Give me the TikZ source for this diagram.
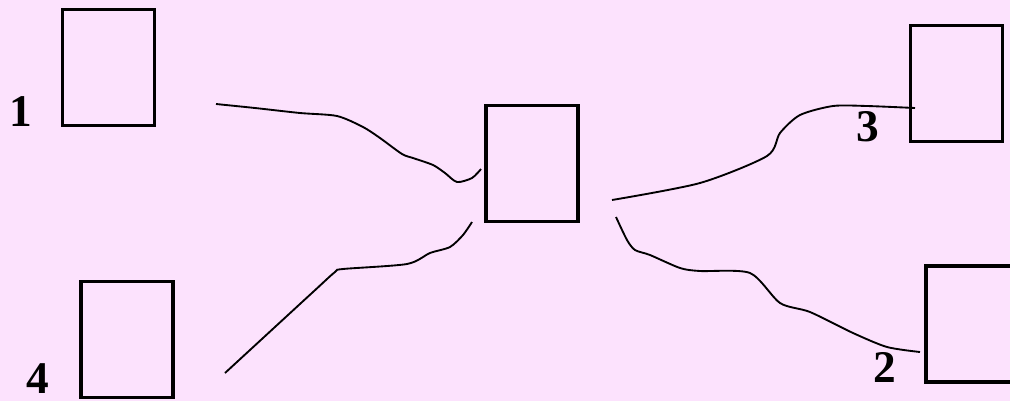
\documentclass[tikz,border=0pt]{standalone}
\usepackage{fontspec}
\setmainfont{Liberation Serif}
\definecolor{bgpink}{RGB}{252,226,253}
\tikzset{
  frame/.style={draw=black, line width=2.5pt, minimum width=69pt, minimum height=87pt, inner sep=0pt},
  wire/.style={black, line width=1.4pt},
  num/.style={font=\fontsize{34}{38}\selectfont\bfseries, inner sep=0pt}
}
\begin{document}
\begin{tikzpicture}[x=0.75pt, y=-0.75pt]

	\fill[bgpink] (0,0) rectangle (1010,401);
	\useasboundingbox (0,0) rectangle (1010,401);

	% boxes
	\node[frame] (box1) at (108.5, 67.5) {};
	\node[frame] (hub) at (532, 163.5) {};
	\node[frame] (box3) at (956.5, 83.5) {};
	\node[frame] (box2) at (972, 324) {};
	\node[frame] (box4) at (127, 339.5) {};

	\node[num] (lab1) at (21, 112) {1};
	\node[num] (lab2) at (885, 367) {2};
	\node[num] (lab3) at (868, 127) {3};
	\node[num] (lab4) at (38, 379) {4};

	% wire ends
	\coordinate (w1a) at (216, 104);
	\coordinate (w1b) at (481, 169);
	\coordinate (w4a) at (225, 373);
	\coordinate (w4b) at (472, 222);
	\coordinate (w3a) at (612, 200);
	\coordinate (w3b) at (915, 108);
	\coordinate (w2a) at (616, 217);
	\coordinate (w2b) at (920, 352);

	\draw[wire] plot[smooth, tension=0.45] coordinates {(w1a) (255,108) (300,113) (337,116) (363,127) (380,138) (402,154) (413,158) (433,165) (445,173) (457,182) (472,178) (w1b)};
	\draw[wire] plot[smooth, tension=0.45] coordinates {(w4a) (313,292) (335,272) (343,269) (407,264) (430,253) (450,247) (463,235) (w4b)};
	\draw[wire] plot[smooth, tension=0.45] coordinates {(w3a) (700,183) (767,156) (780,133) (800,115) (833,106) (867,106) (w3b)};
	\draw[wire] plot[smooth, tension=0.45] coordinates {(w2a) (627,240) (635,250) (650,255) (680,268) (700,271) (750,273) (780,303) (810,312) (853,333) (887,347) (w2b)};

\end{tikzpicture}
\end{document}
